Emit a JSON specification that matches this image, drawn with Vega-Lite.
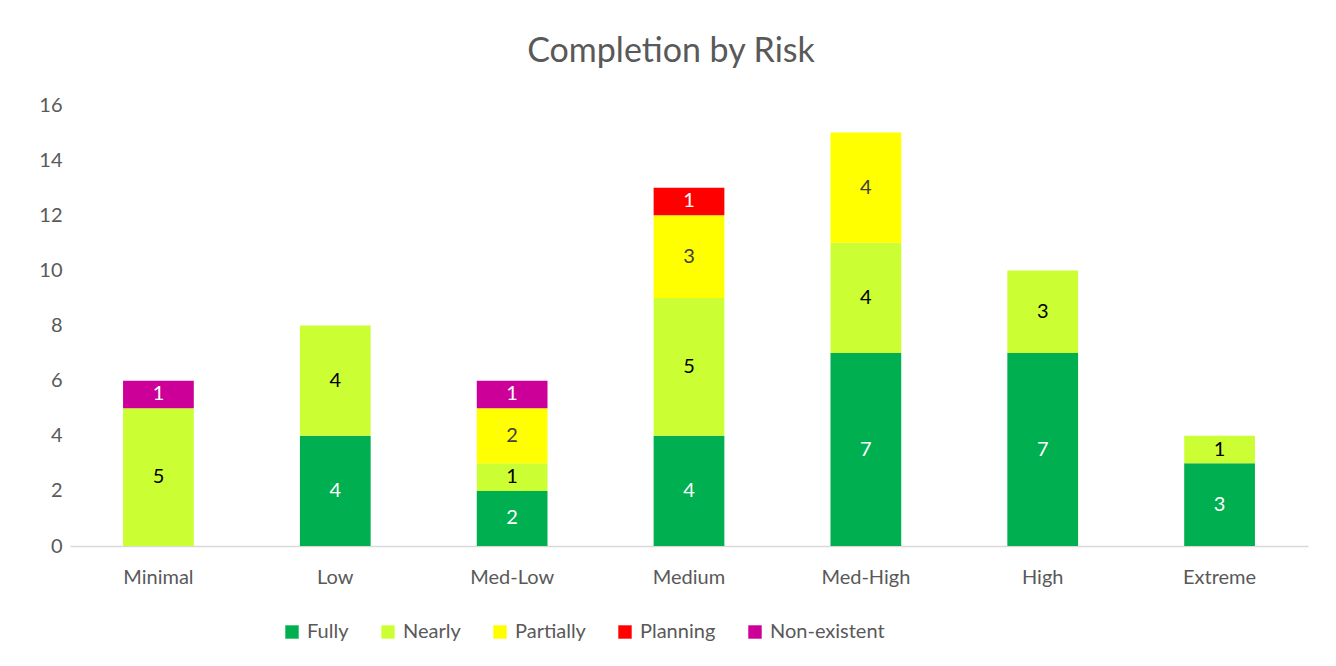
{
  "$schema": "https://vega.github.io/schema/vega-lite/v6.json",
  "width": 1238,
  "height": 441,
  "autosize": {"type": "none"},
  "padding": {"left": 70, "top": 105, "right": 28, "bottom": 120},
  "background": "white",
  "title": {
    "text": "Completion by Risk",
    "fontSize": 34,
    "font": "Lato",
    "fontWeight": "normal",
    "color": "#595959",
    "anchor": "middle",
    "offset": 26,
    "dx": -18
  },
  "config": {
    "view": {"stroke": null},
    "font": "Lato"
  },
  "data": {
    "values": [
      {"risk": "Minimal", "status": "Nearly", "count": 5, "ord": 2},
      {"risk": "Minimal", "status": "Non-existent", "count": 1, "ord": 5},
      {"risk": "Low", "status": "Fully", "count": 4, "ord": 1},
      {"risk": "Low", "status": "Nearly", "count": 4, "ord": 2},
      {"risk": "Med-Low", "status": "Fully", "count": 2, "ord": 1},
      {"risk": "Med-Low", "status": "Nearly", "count": 1, "ord": 2},
      {"risk": "Med-Low", "status": "Partially", "count": 2, "ord": 3},
      {"risk": "Med-Low", "status": "Non-existent", "count": 1, "ord": 5},
      {"risk": "Medium", "status": "Fully", "count": 4, "ord": 1},
      {"risk": "Medium", "status": "Nearly", "count": 5, "ord": 2},
      {"risk": "Medium", "status": "Partially", "count": 3, "ord": 3},
      {"risk": "Medium", "status": "Planning", "count": 1, "ord": 4},
      {"risk": "Med-High", "status": "Fully", "count": 7, "ord": 1},
      {"risk": "Med-High", "status": "Nearly", "count": 4, "ord": 2},
      {"risk": "Med-High", "status": "Partially", "count": 4, "ord": 3},
      {"risk": "High", "status": "Fully", "count": 7, "ord": 1},
      {"risk": "High", "status": "Nearly", "count": 3, "ord": 2},
      {"risk": "Extreme", "status": "Fully", "count": 3, "ord": 1},
      {"risk": "Extreme", "status": "Nearly", "count": 1, "ord": 2}
    ]
  },
  "encoding": {
    "x": {
      "field": "risk",
      "type": "nominal",
      "sort": ["Minimal", "Low", "Med-Low", "Medium", "Med-High", "High", "Extreme"],
      "scale": {"paddingInner": 0.6, "paddingOuter": 0.3},
      "axis": {
        "title": null,
        "labelAngle": 0,
        "labelFontSize": 20,
        "labelColor": "#595959",
        "labelPadding": 21,
        "ticks": false,
        "domainColor": "#d9d9d9",
        "domainWidth": 1.5
      }
    },
    "y": {
      "field": "count",
      "type": "quantitative",
      "aggregate": "sum",
      "stack": "zero",
      "scale": {"domain": [0, 16], "nice": false},
      "axis": {
        "title": null,
        "values": [0, 2, 4, 6, 8, 10, 12, 14, 16],
        "grid": false,
        "domain": false,
        "ticks": false,
        "labelFontSize": 20,
        "labelColor": "#595959",
        "labelPadding": 8
      }
    },
    "order": {"field": "ord", "type": "quantitative", "aggregate": "min"}
  },
  "layer": [
    {
      "mark": {"type": "bar"},
      "encoding": {
        "color": {
          "field": "status",
          "type": "nominal",
          "scale": {
            "domain": ["Fully", "Nearly", "Partially", "Planning", "Non-existent"],
            "range": ["#00b050", "#ccff33", "#ffff00", "#ff0000", "#cc0099"]
          },
          "legend": {
            "title": null,
            "orient": "none",
            "legendX": 212,
            "legendY": 517,
            "direction": "horizontal",
            "symbolType": "square",
            "symbolSize": 180,
            "symbolStrokeWidth": 0,
            "labelFontSize": 20,
            "labelColor": "#595959",
            "columnPadding": 29,
            "labelOffset": 5
          }
        }
      }
    },
    {
      "mark": {"type": "text", "fontSize": 20},
      "encoding": {
        "y": {
          "field": "count",
          "type": "quantitative",
          "aggregate": "sum",
          "stack": "zero",
          "bandPosition": 0.5
        },
        "text": {"field": "count", "type": "quantitative", "aggregate": "sum"},
        "detail": {"field": "status", "type": "nominal"},
        "color": {
          "condition": [
            {"test": "datum.status === 'Nearly'", "value": "#000000"},
            {"test": "datum.status === 'Partially'", "value": "#404040"}
          ],
          "value": "#ffffff"
        }
      }
    }
  ]
}
